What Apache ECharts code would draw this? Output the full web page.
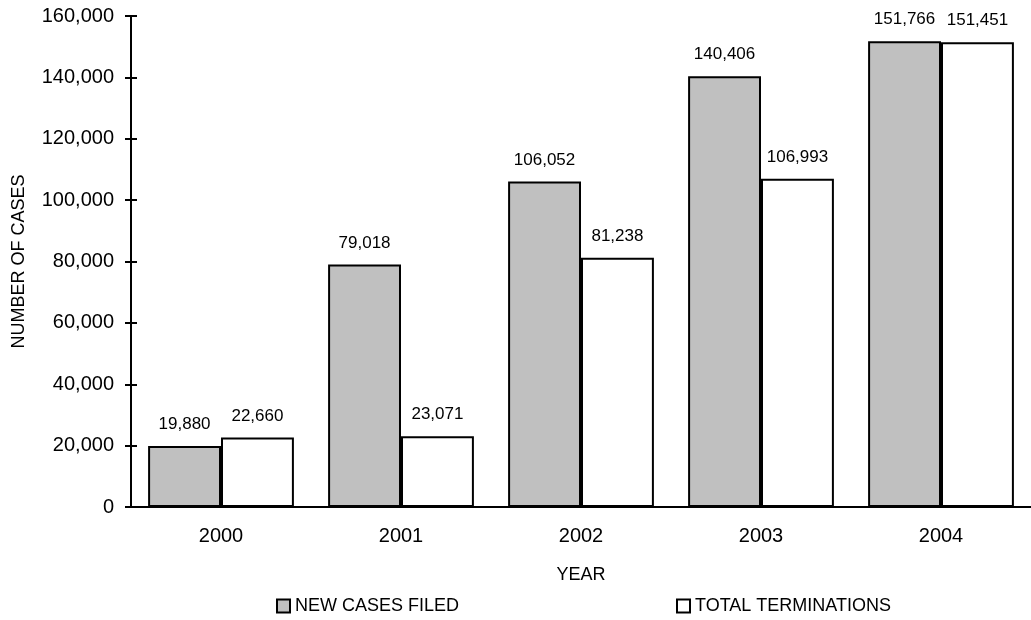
<!DOCTYPE html>
<html>
<head>
<meta charset="utf-8">
<script src="https://cdn.jsdelivr.net/npm/echarts@6/dist/echarts.min.js"></script>
<style>
html,body{margin:0;padding:0;background:#fff;}
#chart{width:1031px;height:620px;}
</style>
</head>
<body>
<div id="chart"></div>
<script>
const years = ['2000', '2001', '2002', '2003', '2004'];
const newCasesFiled = [19880, 79018, 106052, 140406, 151766];
const totalTerminations = [22660, 23071, 81238, 106993, 151451];
const seriesNames = ['NEW CASES FILED', 'TOTAL TERMINATIONS'];
const yTicks = { min: 0, max: 160000, interval: 20000 };

const font = 'Liberation Sans, Arial, sans-serif';
const chart = echarts.init(document.getElementById('chart'));
const fmt = v => v.toLocaleString('en-US');

const axisY = (inside) => ({
  type: 'value', min: yTicks.min, max: yTicks.max, interval: yTicks.interval,
  position: 'left',
  axisLine: { show: true, lineStyle: { color: '#000', width: 2 } },
  axisTick: { show: true, inside: inside, length: 6, lineStyle: { color: '#000', width: 2 } },
  axisLabel: inside ? { show: false } : { show: true, color: '#000', fontFamily: font, fontSize: 20, margin: 17, formatter: fmt },
  splitLine: { show: false },
  name: inside ? '' : 'NUMBER OF CASES',
  nameLocation: 'middle', nameGap: 103,
  nameTextStyle: { color: '#000', fontFamily: font, fontSize: 18 }
});

const legendCommon = { top: 597, padding: 0, itemWidth: 13, itemHeight: 13, itemGap: 4, icon: 'rect',
  textStyle: { color: '#000', fontFamily: font, fontSize: 18, padding: [0,0,0,0] } };

chart.setOption({
  backgroundColor: '#fff',
  animation: false,
  grid: { left: 131, top: 16, width: 905, height: 491 },
  legend: [
    Object.assign({ data: [seriesNames[0]], left: 276 }, legendCommon),
    Object.assign({ data: [seriesNames[1]], left: 676 }, legendCommon)
  ],
  xAxis: {
    type: 'category', data: years,
    axisLine: { show: true, lineStyle: { color: '#000', width: 2 } },
    axisTick: { show: false },
    axisLabel: { color: '#000', fontFamily: font, fontSize: 20, margin: 19 },
    name: 'YEAR', nameLocation: 'middle', nameGap: 59,
    nameTextStyle: { color: '#000', fontFamily: font, fontSize: 18 }
  },
  yAxis: [axisY(false), axisY(true)],
  series: [
    { name: seriesNames[0], type: 'bar', data: newCasesFiled, barGap: '0%', barCategoryGap: '19%',
      itemStyle: { color: '#c0c0c0', borderColor: '#000', borderWidth: 2 },
      label: { show: true, position: 'top', distance: 13, color: '#000', fontFamily: font, fontSize: 17, formatter: p => fmt(p.value) } },
    { name: seriesNames[1], type: 'bar', data: totalTerminations, barGap: '0%', barCategoryGap: '19%',
      itemStyle: { color: '#fff', borderColor: '#000', borderWidth: 2 },
      label: { show: true, position: 'top', distance: 13, color: '#000', fontFamily: font, fontSize: 17, formatter: p => fmt(p.value) } }
  ]
});
</script>
</body>
</html>
